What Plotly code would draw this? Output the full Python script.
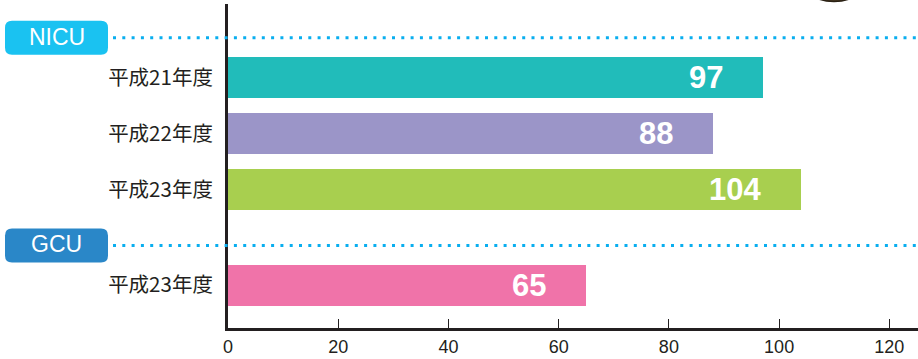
import plotly.graph_objects as go

# ---- data ----
groups = ["NICU", "GCU"]
nicu_labels = ["平成21年度", "平成22年度", "平成23年度"]
nicu_values = [97, 88, 104]
gcu_labels = ["平成23年度"]
gcu_values = [65]
x_ticks = [0, 20, 40, 60, 80, 100, 120]

nicu_colors = ["#21bcba", "#9b95c8", "#a8cf4f"]
gcu_colors = ["#f073a9"]
group_colors = ["#1ac2f1", "#2a87c8"]
dot_color = "#09aeef"
ink = "#231f20"

# ---- layout geometry (figure pixels) ----
FIG_W, FIG_H = 918, 359
ML, MR, MT, MB = 228, 0, 4, 31
PW, PH = FIG_W - ML - MR, FIG_H - MT - MB
HEADER_OFFSET = 0.71   # header row to first bar (in row units)
GROUP_GAP = 1.0        # last bar to next header
Y_RANGE = [5.184, -0.602]
X_RANGE = [0, 125.2]

def px_x(px):
    return (px - ML) / PW

def px_y(py):
    return (FIG_H - MB - py) / PH

def y_paper(v):
    return (Y_RANGE[0] - v) / (Y_RANGE[0] - Y_RANGE[1])

# positions computed from group structure
data_groups = [(nicu_labels, nicu_values, nicu_colors), (gcu_labels, gcu_values, gcu_colors)]
cursor = 0.0
header_pos = []
bar_pos, bar_lab, bar_val, bar_col = [], [], [], []
for labels, values, cols in data_groups:
    header_pos.append(cursor)
    p = cursor + HEADER_OFFSET
    for lab, val, c in zip(labels, values, cols):
        bar_pos.append(p)
        bar_lab.append(lab)
        bar_val.append(val)
        bar_col.append(c)
        p += 1
    cursor = p - 1 + GROUP_GAP

fig = go.Figure()
fig.add_trace(go.Bar(
    x=bar_val, y=bar_pos, orientation="h",
    marker=dict(color=bar_col, line=dict(width=0)),
    width=0.732, hoverinfo="skip", showlegend=False,
))

annotations = []
for v, p in zip(bar_val, bar_pos):
    annotations.append(dict(
        x=v, y=p, xref="x", yref="y", text=str(v), showarrow=False,
        xanchor="right", yanchor="middle", xshift=-38,
        font=dict(family="Liberation Sans, Arial, sans-serif", size=31, color="white", weight="bold"),
    ))

shapes = []
for g, hp, gc in zip(groups, header_pos, group_colors):
    yc = y_paper(hp)
    yc_px = FIG_H - MB - yc * PH
    # dotted line
    shapes.append(dict(type="line", xref="paper", yref="paper",
                       x0=px_x(113), x1=px_x(918), y0=yc, y1=yc,
                       line=dict(color=dot_color, width=3, dash="3px,6.3px"), layer="above"))
    # rounded box
    x0, x1 = 5, 108
    y0, y1 = yc_px - 17, yc_px + 17
    r = 7
    pts = [
        f"M {px_x(x0 + r)},{px_y(y0)}",
        f"L {px_x(x1 - r)},{px_y(y0)}",
        f"Q {px_x(x1)},{px_y(y0)} {px_x(x1)},{px_y(y0 + r)}",
        f"L {px_x(x1)},{px_y(y1 - r)}",
        f"Q {px_x(x1)},{px_y(y1)} {px_x(x1 - r)},{px_y(y1)}",
        f"L {px_x(x0 + r)},{px_y(y1)}",
        f"Q {px_x(x0)},{px_y(y1)} {px_x(x0)},{px_y(y1 - r)}",
        f"L {px_x(x0)},{px_y(y0 + r)}",
        f"Q {px_x(x0)},{px_y(y0)} {px_x(x0 + r)},{px_y(y0)}",
        "Z",
    ]
    shapes.append(dict(type="path", xref="paper", yref="paper", path=" ".join(pts),
                       fillcolor=gc, line=dict(width=0), layer="above"))
    annotations.append(dict(
        x=px_x((x0 + x1) / 2), y=yc, xref="paper", yref="paper", text=g, showarrow=False,
        xanchor="center", yanchor="middle", yshift=1,
        font=dict(family="Liberation Sans, Arial, sans-serif", size=23, color="white"),
    ))

# decorative dark ellipse peeking at the top right
shapes.append(dict(type="circle", xref="paper", yref="paper",
                   x0=px_x(806), x1=px_x(862), y0=px_y(1.5), y1=px_y(-30),
                   fillcolor="#4a3c26", line=dict(color="#2a2114", width=1.5), layer="above"))

fig.update_layout(
    width=FIG_W, height=FIG_H,
    margin=dict(l=ML, r=MR, t=MT, b=MB),
    paper_bgcolor="white", plot_bgcolor="white",
    shapes=shapes, annotations=annotations,
    bargap=0,
    xaxis=dict(range=X_RANGE, tickvals=x_ticks, ticktext=[str(t) for t in x_ticks],
               showgrid=False, zeroline=False, showline=True, linewidth=3, linecolor=ink,
               ticks="inside", ticklen=9, tickwidth=1, tickcolor=ink,
               tickfont=dict(family="Liberation Sans, Arial, sans-serif", size=18, color=ink),
               fixedrange=True),
    yaxis=dict(range=Y_RANGE, tickvals=bar_pos, ticktext=bar_lab,
               showgrid=False, zeroline=False, showline=True, linewidth=3, linecolor=ink,
               ticks="", ticklabelstandoff=8,
               tickfont=dict(family="Noto Sans CJK JP, sans-serif", size=20.5, color=ink),
               fixedrange=True),
)

fig.write_html("out.html")
